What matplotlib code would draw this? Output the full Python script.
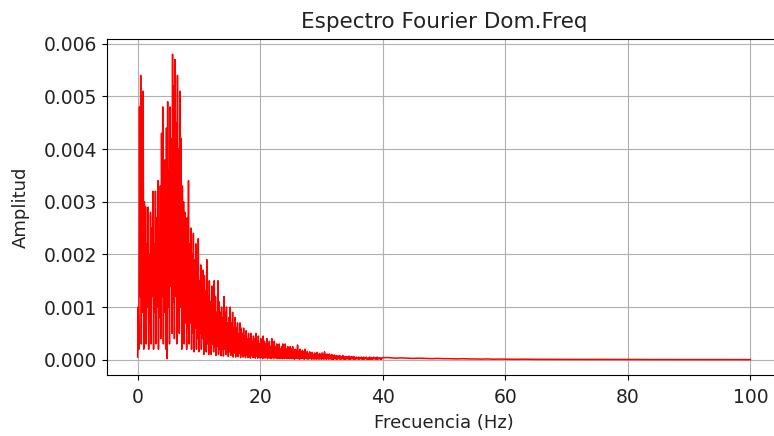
import numpy as np
import matplotlib
matplotlib.use("Agg")
import matplotlib.pyplot as plt

# Amplitudes, in units of 1e-4
# picos (cada 0.2 Hz, desplazados 0.1 Hz) 0-40 Hz
picos = [
    10, 48, 54, 50, 51,   30, 29, 22, 29, 20,
    28, 25, 32, 22, 32,   27, 34, 24, 33, 43,
    48, 30, 38, 44, 49,   36, 48, 42, 58, 52,
    57, 45, 54, 40, 51,   42, 33, 30, 28, 24,
    27, 34, 22, 25, 20,   24, 19, 22, 18, 23,
    15, 18, 14, 17, 16,   13, 19, 12, 15, 11,
    14, 10, 15, 12, 9,    15, 11, 9, 10, 8,
    12, 9, 10, 7, 8,      10, 7, 9, 6, 8,
    6, 7, 5, 7, 6,        5, 6, 4.5, 5.5, 4,
    5, 4, 5, 3.5, 4.5,    4, 5, 3.5, 4.5, 3,
    4, 3, 4.5, 3.5, 3,    4, 3, 3.5, 2.5, 4,
    3, 3.5, 2.5, 3, 2,    3, 2, 2.5, 3, 2,
    3, 2, 2.5, 1.8, 2.5,  2, 2.5, 1.5, 2, 1.8,
    2.8, 1.6, 2, 1.5, 1.8, 1.5, 2, 1.3, 1.6, 1.2,
    1.5, 1.2, 1.4, 1, 1.3, 1.1, 1.4, 1, 1.2, 0.9,
    1.3, 1, 1.5, 0.9, 1.1, 0.9, 1.1, 0.8, 1, 0.7,
    0.9, 0.7, 0.8, 0.6, 0.8, 0.7, 0.6, 0.8, 0.5, 0.6,
    0.6, 0.5, 0.7, 0.5, 0.6, 0.5, 0.6, 0.4, 0.5, 0.4,
    0.5, 0.4, 0.5, 0.4, 0.5, 0.4, 0.5, 0.3, 0.4, 0.5,
    0.4, 0.3, 0.5, 0.3, 0.4, 0.5, 0.3, 0.4, 0.3, 0.4,
]

# valles (cada 0.2 Hz) 0-40 Hz
valles = [
    0.5, 2, 12, 3, 9,     2, 8, 3, 10, 2,
    7, 3, 12, 2, 9,       3, 10, 2, 8, 4,
    12, 3, 9, 2, 0.2,     10, 3, 14, 5, 11,
    4, 12, 3, 9, 5,       10, 2, 8, 3, 7,
    2, 6, 3, 7, 2,        5, 1.5, 6, 2, 4,
    1.5, 5, 2, 4, 1,      4, 1.5, 3, 1, 3.5,
    1, 3, 1.5, 2.5, 0.8,  2.5, 1, 2, 0.8, 2,
    0.7, 2, 1, 1.5, 0.6,  1.5, 0.8, 1.2, 0.5, 1.3,
    0.5, 1, 0.6, 1.2, 0.4, 1, 0.5, 0.8, 0.4, 0.9,
    0.4, 0.7, 0.3, 0.8, 0.4, 0.6, 0.3, 0.7, 0.3, 0.5,
    0.3, 0.5, 0.2, 0.4, 0.3, 0.5, 0.2, 0.4, 0.3, 0.2,
    0.4, 0.2, 0.5, 0.3, 0.2, 0.3, 0.2, 0.4, 0.2, 0.3,
    0.2, 0.4, 0.2, 0.3, 0.2, 0.3, 0.2, 0.3, 0.1, 0.3,
    0.2, 0.3, 0.1, 0.2, 0.3, 0.2, 0.1, 0.3, 0.2, 0.1,
    0.2, 0.3, 0.1, 0.2, 0.1, 0.2, 0.1, 0.2, 0.1, 0.2,
    0.1, 0.2, 0.1, 0.2, 0.1, 0.2, 0.1, 0.2, 0.1, 0.1,
    0.1, 0.2, 0.1, 0.1, 0.2, 0.1, 0.1, 0.2, 0.1, 0.1,
    0.1, 0.2, 0.1, 0.1, 0.1, 0.2, 0.1, 0.1, 0.1, 0.2,
    0.1, 0.1, 0.2, 0.1, 0.1, 0.1, 0.2, 0.1, 0.1, 0.1,
    0.1, 0.1, 0.1, 0.2, 0.1, 0.1, 0.1, 0.2, 0.1, 0.1,
]

# cola 41-100 Hz (cada 1 Hz)
cola = [
    0.4, 0.3, 0.35, 0.3, 0.25, 0.3, 0.25, 0.2, 0.25, 0.2,
    0.2, 0.15, 0.2, 0.15, 0.15, 0.12, 0.15, 0.1, 0.12, 0.1,
    0.1, 0.08, 0.1, 0.08, 0.07, 0.08, 0.07, 0.06, 0.07, 0.06,
    0.06, 0.05, 0.06, 0.05, 0.05, 0.05, 0.04, 0.05, 0.04, 0.04,
    0.04, 0.04, 0.03, 0.04, 0.03, 0.03, 0.03, 0.03, 0.03, 0.03,
    0.03, 0.02, 0.03, 0.02, 0.02, 0.02, 0.02, 0.02, 0.02, 0.02,
]

# armar la serie: valle, pico, valle, pico...
bajo = np.empty(2 * len(picos))
bajo[0::2] = valles
bajo[1::2] = picos
freq = np.concatenate([np.arange(len(bajo)) * 0.1, np.arange(41, 101)])
amp = np.concatenate([bajo, cola]) * 1e-4

fig = plt.figure(figsize=(7.74, 4.36), dpi=100)
ax = fig.add_axes([107 / 774, 61 / 436, 674 / 774, 336 / 436])
ax.plot(freq, amp, color="red", linewidth=1.1)
ax.set_xlim(-5, 105)
ax.set_ylim(-0.00029, 0.00609)
ax.set_yticks([0, 0.001, 0.002, 0.003, 0.004, 0.005, 0.006])
ax.set_title("Espectro Fourier Dom.Freq", fontsize=15.5, color="#222222", pad=8)
ax.set_xlabel("Frecuencia (Hz)", fontsize=13, color="#222222", labelpad=5)
ax.set_ylabel("Amplitud", fontsize=13, color="#222222", labelpad=10)
ax.tick_params(labelsize=13.5, labelcolor="#222222")
ax.tick_params(axis="x", pad=6)
ax.spines["right"].set_visible(False)
ax.grid(True)

fig.savefig("out.png", dpi=100)
